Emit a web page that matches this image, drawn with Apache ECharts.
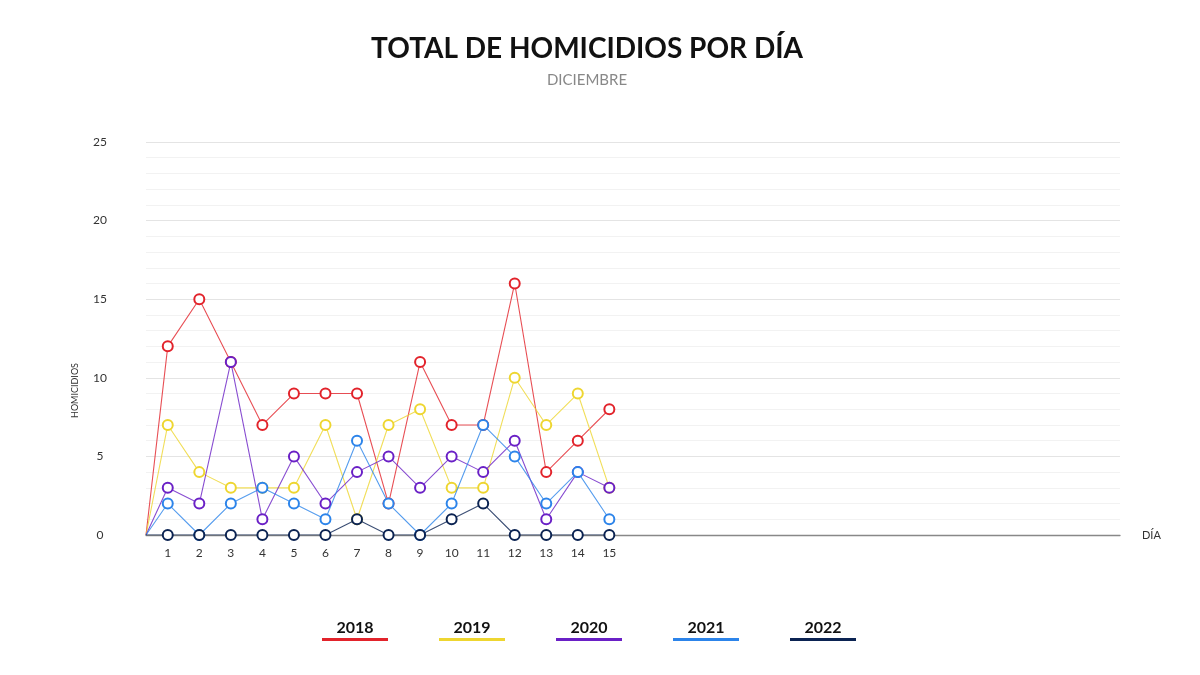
<!DOCTYPE html>
<html>
<head>
<meta charset="utf-8">
<script src="https://cdn.jsdelivr.net/npm/echarts@6/dist/echarts.min.js"></script>
<style>html,body{margin:0;padding:0;background:#fff}#c{width:1200px;height:675px}</style>
</head>
<body>
<div id="c"></div>
<script>
const days = [1,2,3,4,5,6,7,8,9,10,11,12,13,14,15];
const years = ['2018','2019','2020','2021','2022'];
const v2018 = [12,15,11,7,9,9,9,2,11,7,7,16,4,6,8];
const v2019 = [7,4,3,3,3,7,1,7,8,3,3,10,7,9,3];
const v2020 = [3,2,11,1,5,2,4,5,3,5,4,6,1,4,3];
const v2021 = [2,0,2,3,2,1,6,2,0,2,7,5,2,4,1];
const v2022 = [0,0,0,0,0,0,1,0,0,1,2,0,0,0,0];
const startValue = 0; // all series start at 0 on the left edge of the plot
const colors = ['#e2232b','#eed630','#6a20c6','#2c84ea','#0b2352'];

const xMin = 0.31, xMax = 31.19;
const values = [v2018, v2019, v2020, v2021, v2022];

const rich = {n:{fontFamily:'Lato',fontWeight:'bold',fontSize:16,color:'#111',width:66,align:'center',height:20}};
colors.forEach((c,i)=>{ rich['u'+i] = {backgroundColor:c,width:66,height:3}; });

const series = years.map((y,i)=>({
  name: y,
  type: 'line',
  z: 2 + i,
  data: [{value: [xMin, startValue], symbol: 'none'}].concat(days.map((d,k)=>[d, values[i][k]])),
  symbol: 'emptyCircle',
  symbolSize: 10,
  showAllSymbol: true,
  itemStyle: {color: colors[i], borderWidth: 2.5, borderColor: colors[i]},
  lineStyle: {color: colors[i], width: 1.1, opacity: 0.8},
  emphasis: {disabled: true},
  animation: false
}));

const chart = echarts.init(document.getElementById('c'), null, {renderer:'canvas'});
chart.setOption({
  backgroundColor: '#fff',
  animation: false,
  title: {
    text: 'TOTAL DE HOMICIDIOS POR DÍA',
    subtext: 'DICIEMBRE',
    left: 582,
    textAlign: 'center',
    top: 30,
    itemGap: 10,
    textStyle: {fontFamily:'Lato', fontWeight:'bold', fontSize:28, color:'#111'},
    subtextStyle: {fontFamily:'Lato', fontSize:15, color:'#888'}
  },
  legend: {
    data: years,
    left: 311,
    top: 615,
    icon: 'rect',
    itemWidth: 0,
    itemHeight: 0,
    itemGap: 45,
    selectedMode: false,
    formatter: name => '{n|' + name + '}\n{u' + years.indexOf(name) + '|}',
    textStyle: {rich: rich}
  },
  grid: {left: 146, right: 80, top: 142, bottom: 140, containLabel: false},
  xAxis: {
    type: 'value',
    min: xMin,
    max: xMax,
    name: 'DÍA',
    nameLocation: 'end',
    nameGap: 22,
    nameTextStyle: {fontFamily:'Lato', fontSize:11, color:'#333'},
    axisLine: {show: true, onZero: false, lineStyle: {color:'#888', width:1.3}},
    axisTick: {show: false},
    splitLine: {show: false},
    axisLabel: {customValues: days, fontFamily:'Lato', fontSize:12, color:'#333', margin: 12}
  },
  yAxis: {
    type: 'value',
    min: 0,
    max: 25,
    interval: 5,
    name: 'HOMICIDIOS',
    nameLocation: 'middle',
    nameRotate: 90,
    nameGap: 66,
    nameTextStyle: {fontFamily:'Lato', fontSize:9, color:'#333', padding: [0, 104, 0, 0]},
    axisLine: {show: false},
    axisTick: {show: false},
    axisLabel: {fontFamily:'Lato', fontSize:12, color:'#333', align:'center', margin:46},
    splitLine: {show: true, lineStyle: {color:'#e4e4e4', width:1}},
    minorTick: {show: false, splitNumber: 5},
    minorSplitLine: {show: true, lineStyle: {color:'#f2f2f2', width:1}}
  },
  series: series
});
</script>
</body>
</html>
